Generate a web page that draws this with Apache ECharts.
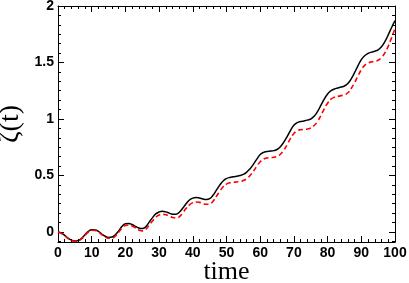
<!DOCTYPE html>
<html><head><meta charset="utf-8">
<script src="https://cdn.jsdelivr.net/npm/echarts@6/dist/echarts.min.js"></script>
<style>html,body{margin:0;padding:0;background:#fff}#c{width:409px;height:283px}</style>
</head><body><div id="c"></div>
<script>
var times = [];
for (var i = 0; i <= 100; i++) times.push(i);
var blackSeries = [0.00,-0.01,-0.03,-0.055,-0.072,-0.08,-0.075,-0.055,-0.025,0.005,
0.02,0.018,0.005,-0.018,-0.038,-0.048,-0.045,-0.025,0.01,0.05,
0.072,0.075,0.066,0.05,0.035,0.03,0.045,0.085,0.125,0.16,
0.177,0.183,0.178,0.167,0.158,0.158,0.175,0.21,0.25,0.283,
0.30,0.305,0.30,0.292,0.288,0.295,0.325,0.37,0.415,0.452,
0.473,0.483,0.488,0.494,0.50,0.51,0.53,0.56,0.60,0.645,
0.685,0.705,0.712,0.716,0.72,0.73,0.755,0.795,0.845,0.90,
0.945,0.968,0.978,0.983,0.99,1.00,1.025,1.065,1.12,1.175,
1.222,1.25,1.265,1.275,1.283,1.292,1.315,1.355,1.41,1.47,
1.525,1.56,1.58,1.592,1.60,1.612,1.64,1.685,1.745,1.81,
1.87];
var redSeries = [0.00,-0.012,-0.033,-0.058,-0.075,-0.082,-0.078,-0.06,-0.03,0.0,
0.015,0.013,0.0,-0.024,-0.045,-0.056,-0.055,-0.037,-0.003,0.035,
0.058,0.062,0.053,0.036,0.018,0.01,0.022,0.058,0.096,0.13,
0.15,0.156,0.152,0.14,0.128,0.124,0.135,0.168,0.207,0.24,
0.26,0.266,0.262,0.252,0.245,0.248,0.272,0.315,0.36,0.40,
0.424,0.435,0.44,0.443,0.447,0.455,0.472,0.50,0.538,0.582,
0.622,0.645,0.655,0.658,0.662,0.668,0.688,0.725,0.773,0.828,
0.872,0.897,0.905,0.908,0.912,0.92,0.942,0.978,1.03,1.09,
1.14,1.175,1.192,1.20,1.207,1.213,1.232,1.27,1.322,1.38,
1.435,1.475,1.495,1.505,1.51,1.52,1.545,1.585,1.645,1.72,
1.80];
var yMajorTicks = [0, 0.5, 1, 1.5, 2];
var yMinorTicks = [];
for (var k = -1; k <= 24; k++) { if (k % 6 !== 0) yMinorTicks.push(k / 12); }
var xLabel = 'time';
var yLabel = 'ζ(t)';

var yMin = -0.0886, yMax = 2;
var lineC = '#000';
function yAx(pos, custom, len, labels, line, name) {
  return {
    type: 'value', min: yMin, max: yMax, position: pos,
    name: name || '', nameLocation: 'middle', nameGap: 47, nameMoveOverlap: false,
    nameTextStyle: {fontFamily: 'Liberation Serif', fontSize: 28, color: '#000', verticalAlign: 'middle'},
    axisLine: {show: line, lineStyle: {color: lineC, width: 1}},
    axisTick: {show: true, inside: true, length: len, customValues: custom, lineStyle: {color: lineC, width: 1}},
    axisLabel: {show: labels, customValues: yMajorTicks, margin: 4, color: '#000', fontFamily: 'Liberation Sans', fontWeight: 'bold', fontSize: 14},
    splitLine: {show: false}
  };
}
function xAx(pos, labels, name) {
  return {
    type: 'value', min: 0, max: 100, interval: 10, position: pos,
    name: name || '', nameLocation: 'middle', nameGap: 30, nameMoveOverlap: false,
    nameTextStyle: {fontFamily: 'Liberation Serif', fontSize: 26, color: '#000', verticalAlign: 'middle'},
    axisLine: {show: true, onZero: false, lineStyle: {color: lineC, width: 1}},
    axisTick: {show: true, inside: true, length: 6, lineStyle: {color: lineC, width: 1}},
    minorTick: {show: true, splitNumber: 5, length: 3, lineStyle: {color: lineC, width: 1}},
    axisLabel: {show: labels, margin: 4, color: '#000', fontFamily: 'Liberation Sans', fontWeight: 'bold', fontSize: 14},
    splitLine: {show: false}, minorSplitLine: {show: false}
  };
}
var chart = echarts.init(document.getElementById('c'), null, {renderer: 'canvas'});
chart.setOption({
  animation: false,
  backgroundColor: '#fff',
  grid: {left: 58, right: 14, top: 6, bottom: 41, containLabel: false, outerBoundsMode: 'none'},
  xAxis: [xAx('bottom', true, xLabel), xAx('top', false)],
  yAxis: [
    yAx('left', yMajorTicks, 6, true, true, yLabel),
    yAx('left', yMinorTicks, 3, false, false),
    yAx('right', yMajorTicks, 6, false, true),
    yAx('right', yMinorTicks, 3, false, false)
  ],
  series: [
    {type: 'line', xAxisIndex: 0, yAxisIndex: 0, showSymbol: false, smooth: true,
     data: times.map(function(t, i){ return [t, blackSeries[i]]; }),
     lineStyle: {color: '#000', width: 1.5}},
    {type: 'line', xAxisIndex: 0, yAxisIndex: 0, showSymbol: false, smooth: true,
     data: times.map(function(t, i){ return [t, redSeries[i]]; }),
     lineStyle: {color: '#ff0000', width: 1.6, type: [5, 3]}}
  ]
});
</script></body></html>
